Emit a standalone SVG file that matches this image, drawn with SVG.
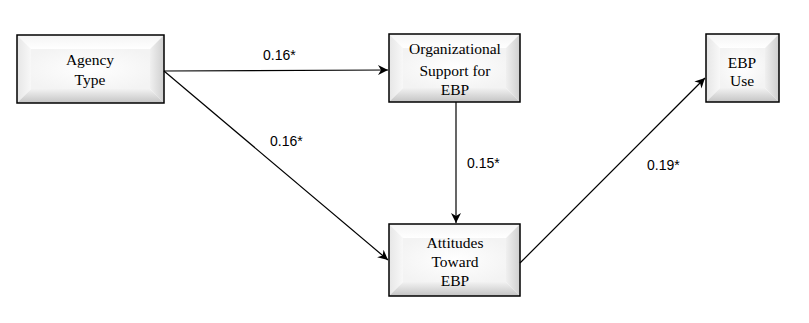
<svg xmlns="http://www.w3.org/2000/svg" width="809" height="323" viewBox="0 0 809 323">
<defs>
<style>
.box{fill:none;stroke:#000;stroke-width:1.5}
.t{font-family:"Liberation Serif","Times New Roman",serif;font-size:15.5px;fill:#000;text-anchor:middle}
.lbl{font-family:"Liberation Sans",Arial,sans-serif;font-size:14px;fill:#000}
.c{stroke:#000;stroke-width:1.2;fill:none;marker-end:url(#ah)}
</style>
<linearGradient id="gTop" x1="0" y1="0" x2="0" y2="1"><stop offset="0" stop-color="#f4f4f4"/><stop offset="1" stop-color="#ffffff"/></linearGradient>
<linearGradient id="gLeft" x1="0" y1="0" x2="1" y2="0"><stop offset="0" stop-color="#e6e6e6"/><stop offset="1" stop-color="#f8f8f8"/></linearGradient>
<linearGradient id="gRight" x1="0" y1="0" x2="1" y2="0"><stop offset="0" stop-color="#f0f0f0"/><stop offset="1" stop-color="#cfcfcf"/></linearGradient>
<linearGradient id="gBot" x1="0" y1="0" x2="0" y2="1"><stop offset="0" stop-color="#f2f2f2"/><stop offset="1" stop-color="#c4c4c4"/></linearGradient>
<radialGradient id="gFace" cx="0.5" cy="0.5" r="0.6"><stop offset="0" stop-color="#ffffff"/><stop offset="1" stop-color="#f3f3f3"/></radialGradient>
<marker id="ah" viewBox="0 0 10 10" refX="10" refY="5" markerWidth="10" markerHeight="10" markerUnits="userSpaceOnUse" orient="auto">
<path d="M0,0 L10,5 L0,10 L3,5 Z" fill="#000"/>
</marker>
</defs>

<g id="node-agency">
<polygon points="17,35 164,35 150,49 31,49" fill="url(#gTop)"/>
<polygon points="17,35 31,49 31,89 17,103" fill="url(#gLeft)"/>
<polygon points="164,35 164,103 150,89 150,49" fill="url(#gRight)"/>
<polygon points="17,103 31,89 150,89 164,103" fill="url(#gBot)"/>
<rect x="31" y="49" width="119" height="40" fill="url(#gFace)"/>
<rect class="box" x="17" y="35" width="147" height="68"/>
<text class="t" x="90" y="65">Agency</text>
<text class="t" x="90" y="85">Type</text>
</g>

<g id="node-org">
<polygon points="389,34 520,34 506,48 403,48" fill="url(#gTop)"/>
<polygon points="389,34 403,48 403,88 389,102" fill="url(#gLeft)"/>
<polygon points="520,34 520,102 506,88 506,48" fill="url(#gRight)"/>
<polygon points="389,102 403,88 506,88 520,102" fill="url(#gBot)"/>
<rect x="403" y="48" width="103" height="40" fill="url(#gFace)"/>
<rect class="box" x="389" y="34" width="131" height="68"/>
<text class="t" x="455" y="54">Organizational</text>
<text class="t" x="455" y="76">Support for</text>
<text class="t" x="455" y="95">EBP</text>
</g>

<g id="node-use">
<polygon points="706,34 779,34 765,48 720,48" fill="url(#gTop)"/>
<polygon points="706,34 720,48 720,88 706,102" fill="url(#gLeft)"/>
<polygon points="779,34 779,102 765,88 765,48" fill="url(#gRight)"/>
<polygon points="706,102 720,88 765,88 779,102" fill="url(#gBot)"/>
<rect x="720" y="48" width="45" height="40" fill="url(#gFace)"/>
<rect class="box" x="706" y="34" width="73" height="68"/>
<text class="t" x="742" y="68">EBP</text>
<text class="t" x="742" y="86">Use</text>
</g>

<g id="node-attitudes">
<polygon points="389,224 520,224 506,238 403,238" fill="url(#gTop)"/>
<polygon points="389,224 403,238 403,282 389,296" fill="url(#gLeft)"/>
<polygon points="520,224 520,296 506,282 506,238" fill="url(#gRight)"/>
<polygon points="389,296 403,282 506,282 520,296" fill="url(#gBot)"/>
<rect x="403" y="238" width="103" height="44" fill="url(#gFace)"/>
<rect class="box" x="389" y="224" width="131" height="72"/>
<text class="t" x="455" y="248">Attitudes</text>
<text class="t" x="455" y="267">Toward</text>
<text class="t" x="455" y="286">EBP</text>
</g>

<g id="connectors">
<line class="c" x1="164" y1="71" x2="388" y2="70"/>
<line class="c" x1="164" y1="71" x2="388" y2="260"/>
<line class="c" x1="456" y1="102" x2="456" y2="223"/>
<line class="c" x1="520" y1="263" x2="705" y2="78"/>
<text class="lbl" x="263" y="60">0.16*</text>
<text class="lbl" x="270" y="146">0.16*</text>
<text class="lbl" x="467" y="168">0.15*</text>
<text class="lbl" x="647" y="170">0.19*</text>
</g>
</svg>
